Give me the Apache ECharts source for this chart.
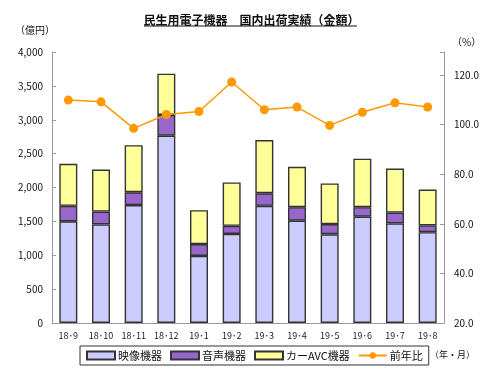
<!DOCTYPE html>
<html><head><meta charset="utf-8">
<script src="https://cdn.jsdelivr.net/npm/echarts@6/dist/echarts.min.js"></script>
<style>html,body{margin:0;padding:0;background:#fff}#c{width:503px;height:371px}</style>
</head><body><div id="c"></div>
<script>
const categories = ['18･9','18･10','18･11','18･12','19･1','19･2','19･3','19･4','19･5','19･6','19･7','19･8'];
const video = [1500,1455,1740,2765,990,1315,1730,1510,1310,1570,1470,1340];
const audio = [230,190,190,305,175,120,185,200,150,140,160,100];
const carAvc = [620,620,695,610,500,640,785,595,600,715,650,530];
const yoy = [109.9,109.2,98.5,104.1,105.3,117.2,106.0,107.1,99.7,105.0,108.8,107.1];
const leftTicks = {min:0, max:4000, interval:500};
const rightTicks = {min:20, max:129.3, interval:20};

const font = '"Noto Sans CJK JP", "Noto Sans", sans-serif';
const chart = echarts.init(document.getElementById('c'));
const barStyle = (c) => ({color:c, borderColor:'#333', borderWidth:1.4});
chart.setOption({
  animation:false,
  textStyle:{fontFamily:font},
  title:{text:'民生用電子機器　国内出荷実績（金額）', left:'center', top:9,
    textStyle:{fontSize:12, fontWeight:'bold', color:'#111', fontFamily:font}},
  graphic:[
    {type:'line', shape:{x1:144,y1:26,x2:357,y2:26}, style:{stroke:'#111', lineWidth:1}},
    {type:'text', left:15, top:25, style:{text:'（億円）', fontSize:10, fill:'#111', fontFamily:font}},
    {type:'text', left:452, top:37, style:{text:'（%）', fontSize:10, fill:'#111', fontFamily:font}},
    {type:'text', left:430, top:350, style:{text:'（年・月）', fontSize:9, fill:'#111', fontFamily:font}}
  ],
  grid:{left:52, right:59, top:52, bottom:48},
  legend:{left:80, top:346, width:344, borderColor:'#333', borderWidth:1, padding:[4,6], itemGap:8,
    itemWidth:28, itemHeight:8, textStyle:{fontSize:11, color:'#111', fontFamily:font, padding:[0,0,0,-2]},
    data:[{name:'映像機器', icon:'rect'},{name:'音声機器', icon:'rect'},{name:'カーAVC機器', icon:'rect'},{name:'前年比'}]},
  xAxis:{type:'category', data:categories,
    axisLine:{lineStyle:{color:'#999'}},
    axisTick:{inside:true, length:3, lineStyle:{color:'#999'}},
    axisLabel:{fontSize:9, color:'#222', margin:8}},
  yAxis:[
    {type:'value', min:leftTicks.min, max:leftTicks.max, interval:leftTicks.interval,
      splitLine:{show:false},
      axisLine:{show:true, lineStyle:{color:'#999'}},
      axisTick:{show:true, inside:true, length:4, lineStyle:{color:'#999'}},
      axisLabel:{fontSize:10, color:'#111', margin:9, formatter:v=>v.toLocaleString('en-US')}},
    {type:'value', min:rightTicks.min, max:rightTicks.max, interval:rightTicks.interval,
      splitLine:{show:false},
      axisLine:{show:true, lineStyle:{color:'#999'}},
      axisTick:{show:true, inside:true, length:4, lineStyle:{color:'#999'}},
      axisLabel:{fontSize:10, color:'#111', margin:10,
        formatter:v=> (Math.abs(v/20 - Math.round(v/20))<1e-6) ? v.toFixed(1) : ''}}
  ],
  series:[
    {name:'映像機器', type:'bar', stack:'s', barWidth:18, data:video, itemStyle:barStyle('#CCCCFF')},
    {name:'音声機器', type:'bar', stack:'s', barWidth:18, data:audio, itemStyle:barStyle('#9966CC')},
    {name:'カーAVC機器', type:'bar', stack:'s', barWidth:18, data:carAvc, itemStyle:barStyle('#FFFF99')},
    {name:'前年比', type:'line', yAxisIndex:1, data:yoy, symbol:'circle', symbolSize:9, z:5,
      lineStyle:{color:'#FF9900', width:1.5}, itemStyle:{color:'#FF9900'}}
  ]
});
</script></body></html>
